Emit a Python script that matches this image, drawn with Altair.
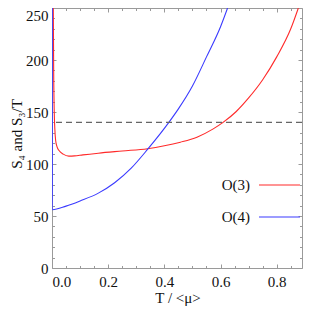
import altair as alt
import pandas as pd

# O(3) series (red)
t_o3 = [0.0046, 0.006, 0.008, 0.010, 0.013, 0.018, 0.025, 0.040, 0.060, 0.080, 0.110, 0.165, 0.250, 0.340, 0.400, 0.457, 0.516, 0.574, 0.609, 0.656, 0.700, 0.750, 0.800, 0.850, 0.877]
v_o3 = [250, 188, 150, 134, 122.6, 116.5, 113, 109.5, 107.6, 107.8, 108.8, 110.4, 112.5, 114.7, 117.5, 121, 125.8, 133.8, 140, 150.5, 163.5, 181, 203, 230, 250]
# O(4) series (blue)
t_o4 = [0.001, 0.0012, 0.050, 0.100, 0.165, 0.223, 0.282, 0.340, 0.416, 0.450, 0.500, 0.550, 0.600, 0.625]
v_o4 = [250, 56, 59.5, 64.5, 72, 82, 96, 114, 140, 153, 175, 203, 232, 250]

series_names = ["O(3)", "O(4)"]
series_colors = ["#ff2a2a", "#3a3aff"]
ref_level = 140

x_major = [0.0, 0.2, 0.4, 0.6, 0.8]
x_minor = [0.05, 0.1, 0.15, 0.25, 0.3, 0.35, 0.45, 0.5, 0.55, 0.65, 0.7, 0.75, 0.85]
y_major = [0, 50, 100, 150, 200]
y_top = [250]
y_minor = [v for v in range(10, 250, 10) if v % 50 != 0]

rows = []
for i, (t, v) in enumerate(zip(t_o3, v_o3)):
    rows.append({"T": t, "S": v, "series": series_names[0], "ord": i})
for i, (t, v) in enumerate(zip(t_o4, v_o4)):
    rows.append({"T": t, "S": v, "series": series_names[1], "ord": i})
df = pd.DataFrame(rows)

FONT = "Liberation Serif"
GRAY = "#9a9a9a"
TXT = "#111111"
FS = 15
xs = alt.Scale(domain=[0, 0.89], nice=False, zero=False)
ys = alt.Scale(domain=[0, 250], nice=False)

MAJ = 4
MIN = 2.5


def xaxis(orient, values, size, labels):
    kw = dict(orient=orient, values=values, tickSize=size, offset=-size, domain=False,
              grid=False, tickColor=GRAY, title=None, labels=labels)
    if labels:
        kw.update(format=".1f", labelFont=FONT, labelFontSize=FS, labelColor=TXT,
                  labelPadding=6)
    return alt.Axis(**kw)


def yaxis(orient, values, size, labels, **extra):
    kw = dict(orient=orient, values=values, tickSize=size, offset=-size, domain=False,
              grid=False, tickColor=GRAY, title=None, labels=labels)
    if labels:
        kw.update(format="d", labelFont=FONT, labelFontSize=FS, labelColor=TXT,
                  labelPadding=4)
    kw.update(extra)
    return alt.Axis(**kw)


curves = alt.Chart(df).mark_line(strokeWidth=1.1, clip=True, interpolate="monotone").encode(
    x=alt.X("T:Q", scale=xs, axis=xaxis("bottom", x_major, MAJ, True)),
    y=alt.Y("S:Q", scale=ys, axis=yaxis("left", y_major, MAJ, True)),
    color=alt.Color("series:N", scale=alt.Scale(domain=series_names, range=series_colors), legend=None),
    order="ord:Q",
    detail="series:N",
)


def ghost(xo, xv, xsz, yo, yv, ysz):
    return alt.Chart(df).mark_point(opacity=0).encode(
        x=alt.X("T:Q", scale=xs, axis=xaxis(xo, xv, xsz, False)),
        y=alt.Y("S:Q", scale=ys, axis=yaxis(yo, yv, ysz, False)),
    )


g1 = ghost("top", x_major, MAJ, "right", y_major + y_top, MAJ)
g2 = ghost("bottom", x_minor, MIN, "left", y_minor, MIN)
g3 = ghost("top", x_minor, MIN, "right", y_minor, MIN)
g4 = alt.Chart(df).mark_point(opacity=0).encode(
    x=alt.X("T:Q", scale=xs, axis=None),
    y=alt.Y("S:Q", scale=ys, axis=yaxis("left", y_top, MAJ, True, labelOffset=7)),
)

dash = alt.Chart(pd.DataFrame({"S": [ref_level]})).mark_rule(
    color="#666666", strokeDash=[6, 4], strokeWidth=1.1
).encode(y=alt.Y("S:Q", scale=ys, axis=None))

leg_y = [177, 209]
legend_layers = []
for name, col, yy in zip(series_names, series_colors, leg_y):
    one = pd.DataFrame({"series": [name]})
    legend_layers.append(
        alt.Chart(one).mark_text(align="right", baseline="middle", font=FONT, fontSize=FS, color=TXT)
        .encode(text="series:N", x=alt.value(198), y=alt.value(yy))
    )
    legend_layers.append(
        alt.Chart(one).mark_rule(strokeWidth=1.1, color=col)
        .encode(x=alt.value(207), x2=alt.value(248), y=alt.value(yy))
    )

xtitle = alt.Chart(pd.DataFrame({"t": ["T / <μ>"]})).mark_text(
    font=FONT, fontSize=FS, color=TXT, baseline="middle"
).encode(text="t:N", x=alt.value(126), y=alt.value(290))
ytitle = alt.Chart(pd.DataFrame({"t": ["S₄  and  S₃/T"]})).mark_text(
    font=FONT, fontSize=FS, color=TXT, baseline="middle", angle=270
).encode(text="t:N", x=alt.value(-35), y=alt.value(126))

chart = alt.layer(curves, g1, g2, g3, g4, dash, *legend_layers, xtitle, ytitle).resolve_axis(
    x="independent", y="independent"
).properties(
    width=250, height=260,
    autosize=alt.AutoSizeParams(type="none"),
    padding={"left": 44, "top": 0, "right": 1, "bottom": 42},
).configure_view(stroke=GRAY, strokeWidth=1).configure_axis(
    labelFont=FONT, labelFontSize=FS, labelColor=TXT
)

chart.save("out.html", embed_options={"renderer": "svg", "actions": False})
